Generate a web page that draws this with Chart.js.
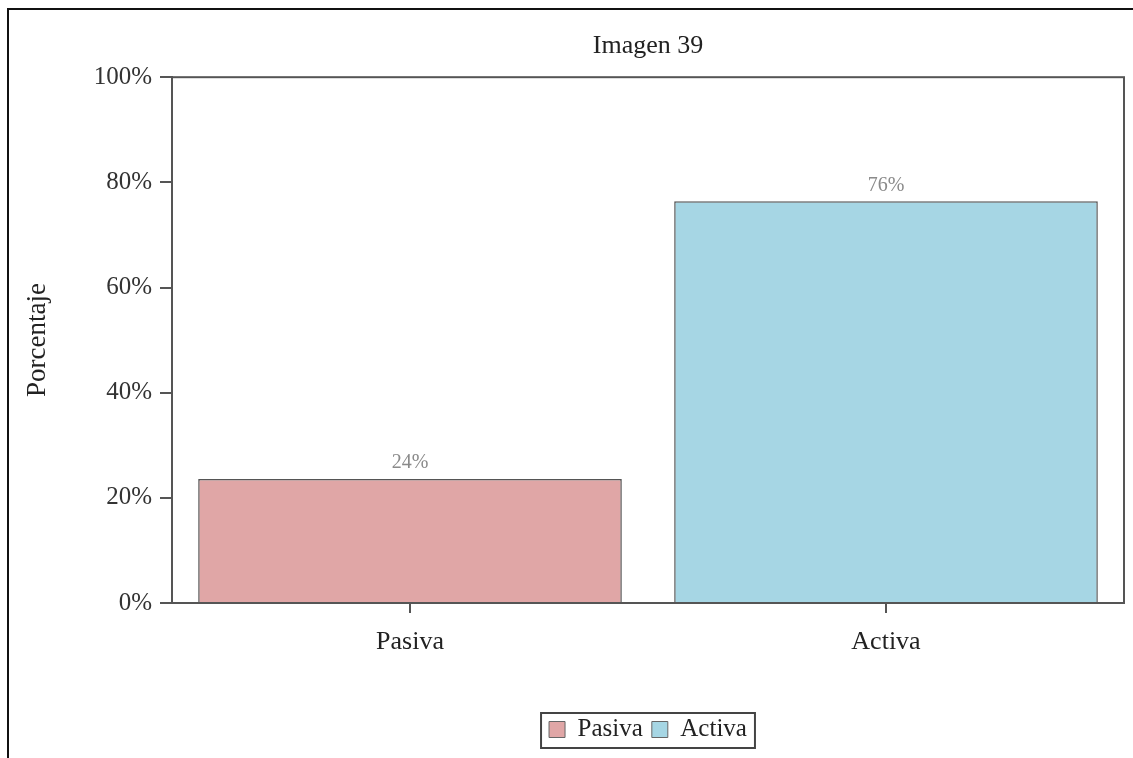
<!DOCTYPE html>
<html>
<head>
<meta charset="utf-8">
<script src="https://cdn.jsdelivr.net/npm/chart.js@4/dist/chart.umd.min.js"></script>
<style>
html,body{margin:0;padding:0;background:#fff;}
#wrap{width:1133px;height:758px;position:relative;}
</style>
</head>
<body>
<div id="wrap"><canvas id="c" width="1133" height="758"></canvas></div>
<script>
const categories = ['Pasiva', 'Activa'];
const percentValues = [23.6, 76.4];
const valueLabels = ['24%', '76%'];
const yTicks = [0, 20, 40, 60, 80, 100];
const barColors = ['#E0A6A6', '#A6D6E4'];

const FONT = "'Liberation Serif', 'Times New Roman', serif";

const framePlugin = {
  id: 'frame',
  beforeDraw(chart) {
    const ctx = chart.ctx;
    ctx.save();
    ctx.fillStyle = '#fff';
    ctx.fillRect(0, 0, chart.width, chart.height);
    ctx.strokeStyle = '#111';
    ctx.lineWidth = 2;
    ctx.beginPath();
    ctx.moveTo(8, chart.height);
    ctx.lineTo(8, 9);
    ctx.lineTo(chart.width, 9);
    ctx.stroke();
    ctx.restore();
  },
  afterLayout(chart) {
    const a = chart.chartArea;
    if (chart.legend) { chart.legend.left = a.left; chart.legend.right = a.right; }
    if (chart.titleBlock) { chart.titleBlock.left = a.left; chart.titleBlock.right = a.right; }
  },
  afterDatasetsDraw(chart) {
    const ctx = chart.ctx;
    const a = chart.chartArea;
    ctx.save();
    ctx.strokeStyle = '#555';
    ctx.lineWidth = 2;
    ctx.strokeRect(a.left, a.top, a.right - a.left, a.bottom - a.top);
    const meta = chart.getDatasetMeta(0);
    ctx.fillStyle = '#8a8a8a';
    ctx.font = '20px ' + FONT;
    ctx.textAlign = 'center';
    ctx.textBaseline = 'bottom';
    meta.data.forEach((bar, i) => {
      ctx.fillText(valueLabels[i], bar.x, bar.y - 6);
    });
    ctx.restore();
  },
  afterDraw(chart) {
    const lg = chart.legend;
    if (!lg || !lg.legendHitBoxes || !lg.legendHitBoxes.length) return;
    const boxes = lg.legendHitBoxes;
    let l = Infinity, r = -Infinity, t = Infinity, b = -Infinity;
    boxes.forEach(h => {
      l = Math.min(l, h.left); r = Math.max(r, h.left + h.width);
      t = Math.min(t, h.top); b = Math.max(b, h.top + h.height);
    });
    const ctx = chart.ctx;
    ctx.save();
    ctx.strokeStyle = '#444';
    ctx.lineWidth = 2;
    ctx.strokeRect(l - 8, t - 4, (r - l) + 16, (b - t) + 10);
    ctx.restore();
  }
};

new Chart(document.getElementById('c'), {
  type: 'bar',
  data: {
    labels: categories,
    datasets: [{
      data: percentValues,
      backgroundColor: barColors,
      borderColor: '#555',
      borderWidth: 1.5,
      categoryPercentage: 0.89,
      barPercentage: 1.0
    }]
  },
  options: {
    responsive: false,
    animation: false,
    devicePixelRatio: 1,
    layout: { padding: { left: 22, right: 9, top: 31, bottom: 6 } },
    plugins: {
      tooltip: { enabled: false },
      title: {
        display: true,
        text: 'Imagen 39',
        color: '#222',
        font: { family: FONT, size: 26, weight: 'normal' },
        padding: { top: 0, bottom: 15 }
      },
      legend: {
        display: true,
        position: 'bottom',
        labels: {
          color: '#222',
          font: { family: FONT, size: 25 },
          boxWidth: 16,
          boxHeight: 16,
          padding: 9,
          generateLabels(chart) {
            return categories.map((c, i) => ({
              text: c,
              fillStyle: barColors[i],
              strokeStyle: '#666',
              lineWidth: 1,
              hidden: false,
              index: i,
              fontColor: '#222'
            }));
          }
        }
      }
    },
    scales: {
      x: {
        grid: { display: true, drawOnChartArea: false, drawTicks: true, tickLength: 10, offset: false, color: '#555', lineWidth: 2 },
        border: { display: true, color: '#555', width: 2 },
        ticks: { color: '#222', font: { family: FONT, size: 26 }, padding: 14 },
        afterFit(scale) { scale.height = 105; }
      },
      y: {
        min: 0,
        max: 100,
        afterBuildTicks(scale) { scale.ticks = yTicks.map(v => ({ value: v })); },
        grid: { display: true, drawOnChartArea: false, drawTicks: true, tickLength: 12, color: '#555', lineWidth: 2 },
        border: { display: true, color: '#555', width: 2 },
        ticks: { color: '#333', font: { family: FONT, size: 25 }, padding: 8, callback: v => v + '%' },
        title: { display: true, text: 'Porcentaje', color: '#222', font: { family: FONT, size: 27 }, padding: 0 },
        afterFit(scale) { scale.width = 150; }
      }
    }
  },
  plugins: [framePlugin]
});
</script>
</body>
</html>
